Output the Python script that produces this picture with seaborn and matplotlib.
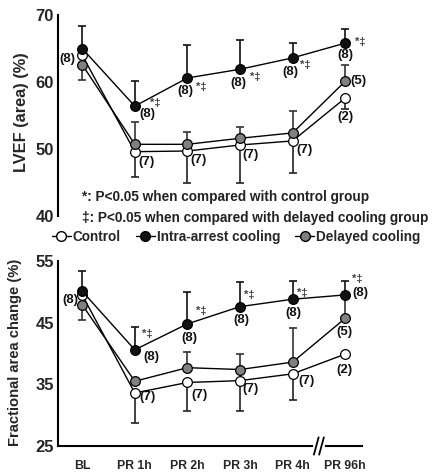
import numpy as np
import matplotlib
matplotlib.use('Agg')
import matplotlib.pyplot as plt
from matplotlib.lines import Line2D
import seaborn as sns

sns.set_theme(style='white')
plt.rcParams['font.family'] = ['Liberation Sans', 'DejaVu Sans']
plt.rcParams['font.weight'] = 'bold'

# ---- data ----
TIMES = ['BL', 'PR 1h', 'PR 2h', 'PR 3h', 'PR 4h', 'PR 96h']
GROUPS = ['Control', 'Intra-arrest cooling', 'Delayed cooling']

# LVEF (area) (%)
lvef_control = [64.0, 49.6, 49.7, 50.6, 51.2, 57.6]
lvef_intra = [65.0, 56.4, 60.6, 61.9, 63.6, 65.8]
lvef_delayed = [62.6, 50.7, 50.7, 51.6, 52.4, 60.1]
lvef_control_lo = [np.nan, 45.8, 44.9, 44.9, 46.4, 56.0]
lvef_intra_hi = [68.3, 60.1, 65.5, 66.3, 65.8, 67.9]
lvef_delayed_hi = [np.nan, 54.1, 52.6, 53.3, 55.7, 62.5]
lvef_delayed_lo = [60.3, np.nan, np.nan, np.nan, np.nan, np.nan]

# Fractional area change (%)
fac_control = [49.5, 33.6, 35.3, 35.6, 36.7, 39.9]
fac_intra = [50.1, 40.6, 44.8, 47.6, 48.8, 49.5]
fac_delayed = [47.9, 35.5, 37.7, 37.4, 38.6, 45.7]
fac_control_lo = [np.nan, 28.7, 30.7, 30.6, 32.4, np.nan]
fac_intra_hi = [53.4, 44.3, 49.9, 51.6, 51.7, 51.7]
fac_delayed_hi = [np.nan, np.nan, 40.2, 40.0, 44.2, 49.5]
fac_delayed_lo = [45.4, np.nan, np.nan, np.nan, np.nan, np.nan]

# n labels and significance marks
lvef_n_control = ['(8)', '(7)', '(7)', '(7)', '(7)', '(2)']
lvef_n_intra = ['', '(8)', '(8)', '(8)', '(8)', '(8)']
lvef_n_delayed = ['', '', '', '', '', '(5)']
fac_n_control = ['(8)', '(7)', '(7)', '(7)', '(7)', '(2)']
fac_n_intra = ['', '(8)', '(8)', '(8)', '(8)', '(8)']
fac_n_delayed = ['', '', '', '', '', '(5)']
sig_intra = ['', '*‡', '*‡', '*‡', '*‡', '*‡']

FOOT1 = '*: P<0.05 when compared with control group'
FOOT2 = '‡: P<0.05 when compared with delayed cooling group'

FACE = {'Control': 'white', 'Intra-arrest cooling': '#111111', 'Delayed cooling': '#808080'}

# label offsets (pixels) per panel
LVEF_OFF = {
    'control': [(-15, -4), (12, -10), (11, -9), (11, -10), (12, -9), (0, -19)],
    'intra': [None, (13, -8), (-2, -13), (-2, -14), (-2, -14), (0, -12)],
    'delayed': [None] * 5 + [(13, 0)],
    'sig': [None, (20, 3), (14, -9), (15, -8), (13, -7), (15, 1)],
}
FAC_OFF = {
    'control': [(-12, -5), (13, -4), (12, -13), (11, -8), (14, -7), (-1, -16)],
    'intra': [None, (17, -7), (2, -14), (1, -13), (1, -14), (15, 2)],
    'delayed': [None] * 5 + [(-1, -14)],
    'sig': [None, (12, 16), (14, 13), (9, 12), (10, 6), (12, 16)],
}

x = np.arange(len(TIMES))

fig = plt.figure(figsize=(4.34, 4.74), dpi=100)
ax1 = fig.add_axes([58 / 434, 1 - 216 / 474, 304 / 434, 201 / 474])
ax2 = fig.add_axes([58 / 434, 1 - 446 / 474, 304 / 434, 185 / 474])


def err_bars(ax, vals, ends, color):
    vals = np.asarray(vals, float)
    ends = np.asarray(ends, float)
    ok = ~np.isnan(ends)
    up = np.where(ends > vals, ends - vals, 0)
    dn = np.where(ends < vals, vals - ends, 0)
    ax.errorbar(x[ok], vals[ok], yerr=[dn[ok], up[ok]], fmt='none', ecolor=color,
                elinewidth=1.2, capsize=3, capthick=1.2, zorder=1)


def label(ax, xi, yv, txt, off, size=9.5, color='#111111'):
    if not txt or off is None:
        return
    ax.annotate(txt, (xi, yv), xytext=off, textcoords='offset pixels',
                ha='center', va='center', fontsize=size, fontweight='bold', color=color)


def panel(ax, ctrl, intra, dely, c_lo, i_hi, d_hi, d_lo, n_c, n_i, n_d, off):
    err_bars(ax, ctrl, c_lo, '#222222')
    err_bars(ax, dely, d_hi, '#333333')
    err_bars(ax, dely, d_lo, '#333333')
    err_bars(ax, intra, i_hi, '#111111')
    for vals, g, z in [(ctrl, 'Control', 2), (dely, 'Delayed cooling', 3),
                       (intra, 'Intra-arrest cooling', 4)]:
        sns.lineplot(x=x, y=vals, ax=ax, color='black', lw=1.0, marker='o', ms=7,
                     markerfacecolor=FACE[g], markeredgecolor='black', mew=0.9,
                     zorder=z, legend=False)
    for i in range(len(x)):
        label(ax, x[i], ctrl[i], n_c[i], off['control'][i])
        label(ax, x[i], intra[i], n_i[i], off['intra'][i])
        label(ax, x[i], dely[i], n_d[i], off['delayed'][i])
        label(ax, x[i], intra[i], sig_intra[i], off['sig'][i], size=8, color='#444444')
    ax.set_xlim(-0.46, 5.32)
    ax.set_xlabel('')
    ax.set_ylabel('')
    ax.tick_params(axis='y', direction='in', length=3, width=1.2, labelsize=12, pad=3)
    for s in ['top', 'right']:
        ax.spines[s].set_visible(False)
    ax.spines['left'].set_linewidth(1.5)
    ax.spines['left'].set_color('black')


panel(ax1, lvef_control, lvef_intra, lvef_delayed, lvef_control_lo, lvef_intra_hi,
      lvef_delayed_hi, lvef_delayed_lo, lvef_n_control, lvef_n_intra, lvef_n_delayed, LVEF_OFF)
ax1.set_ylim(40, 70)
ax1.set_yticks([40, 50, 60, 70])
ax1.set_yticklabels(['40', '50', '60', '70'], fontweight='bold', fontsize=12)
ax1.spines['bottom'].set_visible(False)
ax1.set_xticks([])

panel(ax2, fac_control, fac_intra, fac_delayed, fac_control_lo, fac_intra_hi,
      fac_delayed_hi, fac_delayed_lo, fac_n_control, fac_n_intra, fac_n_delayed, FAC_OFF)
ax2.set_ylim(25, 55)
ax2.set_yticks([25, 35, 45, 55])
ax2.set_yticklabels(['25', '35', '45', '55'], fontweight='bold', fontsize=12)
ax2.set_xticks(x)
ax2.set_xticklabels(TIMES, fontweight='bold', fontsize=8.8)
ax2.tick_params(axis='x', direction='in', length=3, width=1.2, pad=10)
ax2.spines['bottom'].set_linewidth(1.5)
ax2.spines['bottom'].set_color('black')

# axis break between PR 4h and PR 96h
bx = 4.5
ax2.plot([bx - 0.08, bx + 0.08], [25, 25], color='white', lw=3, clip_on=False, zorder=5)
for dx in (-0.05, 0.05):
    ax2.plot([bx + dx - 0.045, bx + dx + 0.045], [23.6, 26.4], color='black', lw=1.3,
             clip_on=False, zorder=6)

fig.text(22 / 434, 1 - 112 / 474, 'LVEF (area) (%)', rotation=90, ha='center', va='center',
         fontsize=11.8, fontweight='bold')
fig.text(15 / 434, 1 - 352 / 474, 'Fractional area change (%)', rotation=90, ha='center',
         va='center', fontsize=10.6, fontweight='bold')

fig.text(82 / 434, 1 - 197 / 474, FOOT1, ha='left', va='center', fontsize=9.8,
         fontweight='bold', color='#222222')
fig.text(82 / 434, 1 - 218 / 474, FOOT2, ha='left', va='center', fontsize=9.8,
         fontweight='bold', color='#222222')

handles = [Line2D([0], [0], color='black', lw=1.0, marker='o', ms=7,
                  markerfacecolor=FACE[g], markeredgecolor='black') for g in GROUPS]
fig.legend(handles, GROUPS, loc='center', bbox_to_anchor=(236 / 434, 1 - 237 / 474), ncol=3,
           frameon=False, handlelength=1.4, handletextpad=0.15, columnspacing=1.1,
           prop={'weight': 'bold', 'size': 9.8})

fig.savefig('out.png', dpi=100)
